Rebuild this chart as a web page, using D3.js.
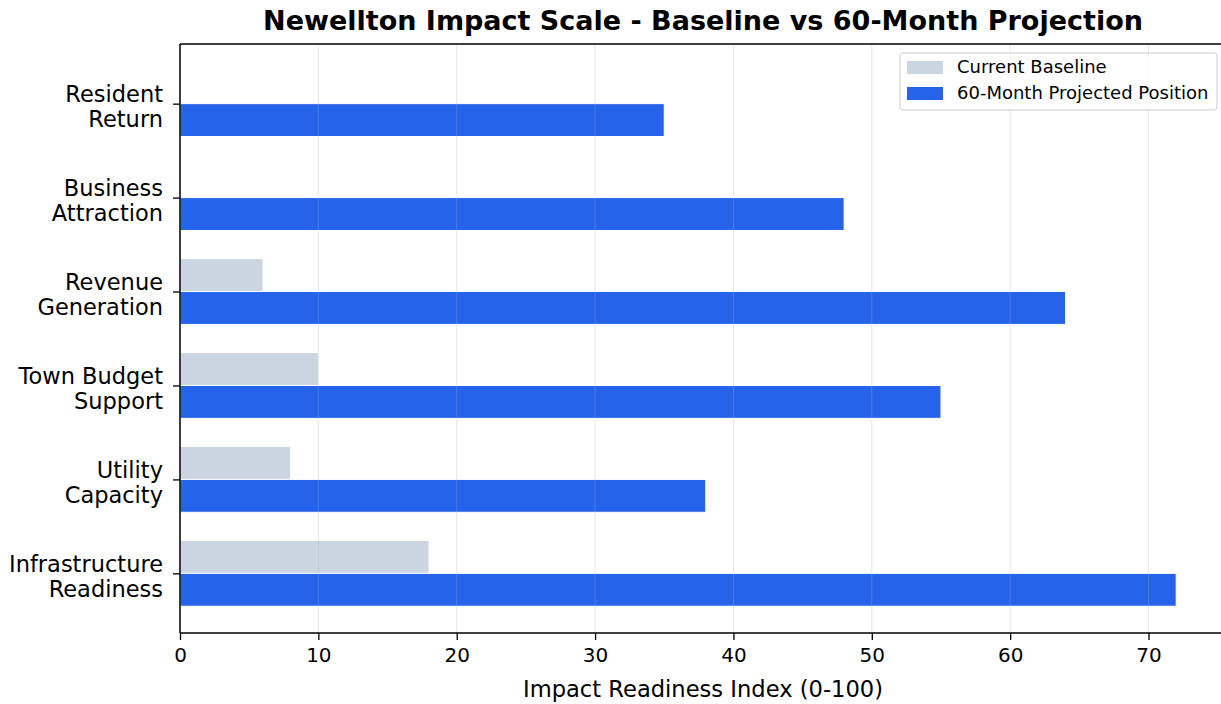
<!DOCTYPE html>
<html>
<head>
<meta charset="utf-8">
<script src="https://cdn.jsdelivr.net/npm/d3@7"></script>
<style>
  body { margin: 0; background: #fff; }
  svg text { font-family: "DejaVu Sans", sans-serif; fill: #000; }
</style>
</head>
<body>
<div id="chart"></div>
<script>
// Categories, bottom to top
const categories = [
  'Infrastructure\nReadiness',
  'Utility\nCapacity',
  'Town Budget\nSupport',
  'Revenue\nGeneration',
  'Business\nAttraction',
  'Resident\nReturn'
];
const baseline = [18, 8, 10, 6, 0, 0];
const projected = [72, 38, 55, 64, 48, 35];
const xTicks = [0, 10, 20, 30, 40, 50, 60, 70];
const seriesNames = ['Current Baseline', '60-Month Projected Position'];
const seriesColors = ['#cbd5e1', '#2563eb'];

const width = 1221, height = 704;
const margin = { top: 44, right: -5, bottom: 71, left: 180 };
const barH = 0.35;

const svg = d3.select('#chart').append('svg')
  .attr('width', width)
  .attr('height', height);

const innerW = width - margin.left - margin.right;
const innerH = height - margin.top - margin.bottom;

const x = d3.scaleLinear().domain([0, 75.6]).range([0, innerW]);
const span = categories.length - 1 + 2 * barH;
const y = d3.scaleLinear()
  .domain([-barH - 0.05 * span, categories.length - 1 + barH + 0.05 * span])
  .range([innerH, 0]);

const chart = svg.append('g')
  .attr('transform', `translate(${margin.left}, ${margin.top})`);

// Bars
[baseline, projected].forEach((vals, s) => {
  chart.append('g').selectAll('rect')
    .data(vals)
    .join('rect')
    .attr('x', x(0))
    .attr('y', (d, i) => s === 0 ? y(i + barH) : y(i))
    .attr('width', d => x(d) - x(0))
    .attr('height', y(0) - y(barH))
    .attr('fill', seriesColors[s])
    .attr('stroke', '#fff')
    .attr('stroke-width', 1);
});

// Vertical grid on top of bars
chart.append('g').selectAll('line')
  .data(xTicks)
  .join('line')
  .attr('x1', d => x(d)).attr('x2', d => x(d))
  .attr('y1', 0).attr('y2', innerH)
  .attr('stroke', '#b0b0b0')
  .attr('stroke-opacity', 0.3)
  .attr('stroke-width', 1);

// Axes
const axisX = chart.append('g')
  .attr('transform', `translate(0, ${innerH})`)
  .call(d3.axisBottom(x).tickValues(xTicks).tickSize(7).tickPadding(8));
axisX.select('.domain').remove();
axisX.selectAll('text').style('font-size', '20px').attr('dy', '0.71em');
axisX.selectAll('line').attr('stroke-width', 1.3);

const axisY = chart.append('g')
  .call(d3.axisLeft(y).tickValues(d3.range(categories.length)).tickSize(7).tickFormat(''));
axisY.select('.domain').remove();
axisY.selectAll('line').attr('stroke-width', 1.3);

axisY.selectAll('.tick').each(function (d) {
  const lines = categories[d].split('\n');
  const t = d3.select(this).append('text')
    .attr('text-anchor', 'end')
    .style('font-size', '22.5px');
  lines.forEach((ln, k) => {
    t.append('tspan')
      .attr('x', -17)
      .attr('y', k === 0 ? -2 : 23)
      .text(ln);
  });
});

// Spines (left, top, bottom)
chart.append('line').attr('x1', 0).attr('x2', 0).attr('y1', 0).attr('y2', innerH)
  .attr('stroke', '#000').attr('stroke-width', 1.5);
chart.append('line').attr('x1', 0).attr('x2', innerW).attr('y1', 0).attr('y2', 0)
  .attr('stroke', '#000').attr('stroke-width', 1.5);
chart.append('line').attr('x1', 0).attr('x2', innerW).attr('y1', innerH).attr('y2', innerH)
  .attr('stroke', '#000').attr('stroke-width', 1.5);

// Title and axis label
svg.append('text')
  .attr('x', 703).attr('y', 30)
  .attr('text-anchor', 'middle')
  .style('font-size', '27px')
  .style('font-weight', 'bold')
  .text('Newellton Impact Scale - Baseline vs 60-Month Projection');

svg.append('text')
  .attr('x', 703).attr('y', 697)
  .attr('text-anchor', 'middle')
  .style('font-size', '22.6px')
  .text('Impact Readiness Index (0-100)');

// Legend
const legend = svg.append('g').attr('transform', 'translate(900, 53)');
legend.append('rect')
  .attr('width', 317).attr('height', 57)
  .attr('rx', 3)
  .attr('fill', '#fff').attr('fill-opacity', 0.8)
  .attr('stroke', '#ccc');
seriesNames.forEach((name, i) => {
  legend.append('rect')
    .attr('x', 7).attr('y', 8 + i * 26)
    .attr('width', 36).attr('height', 13)
    .attr('fill', seriesColors[i]);
  legend.append('text')
    .attr('x', 57).attr('y', 20 + i * 26)
    .style('font-size', '18px')
    .text(name);
});
</script>
</body>
</html>
